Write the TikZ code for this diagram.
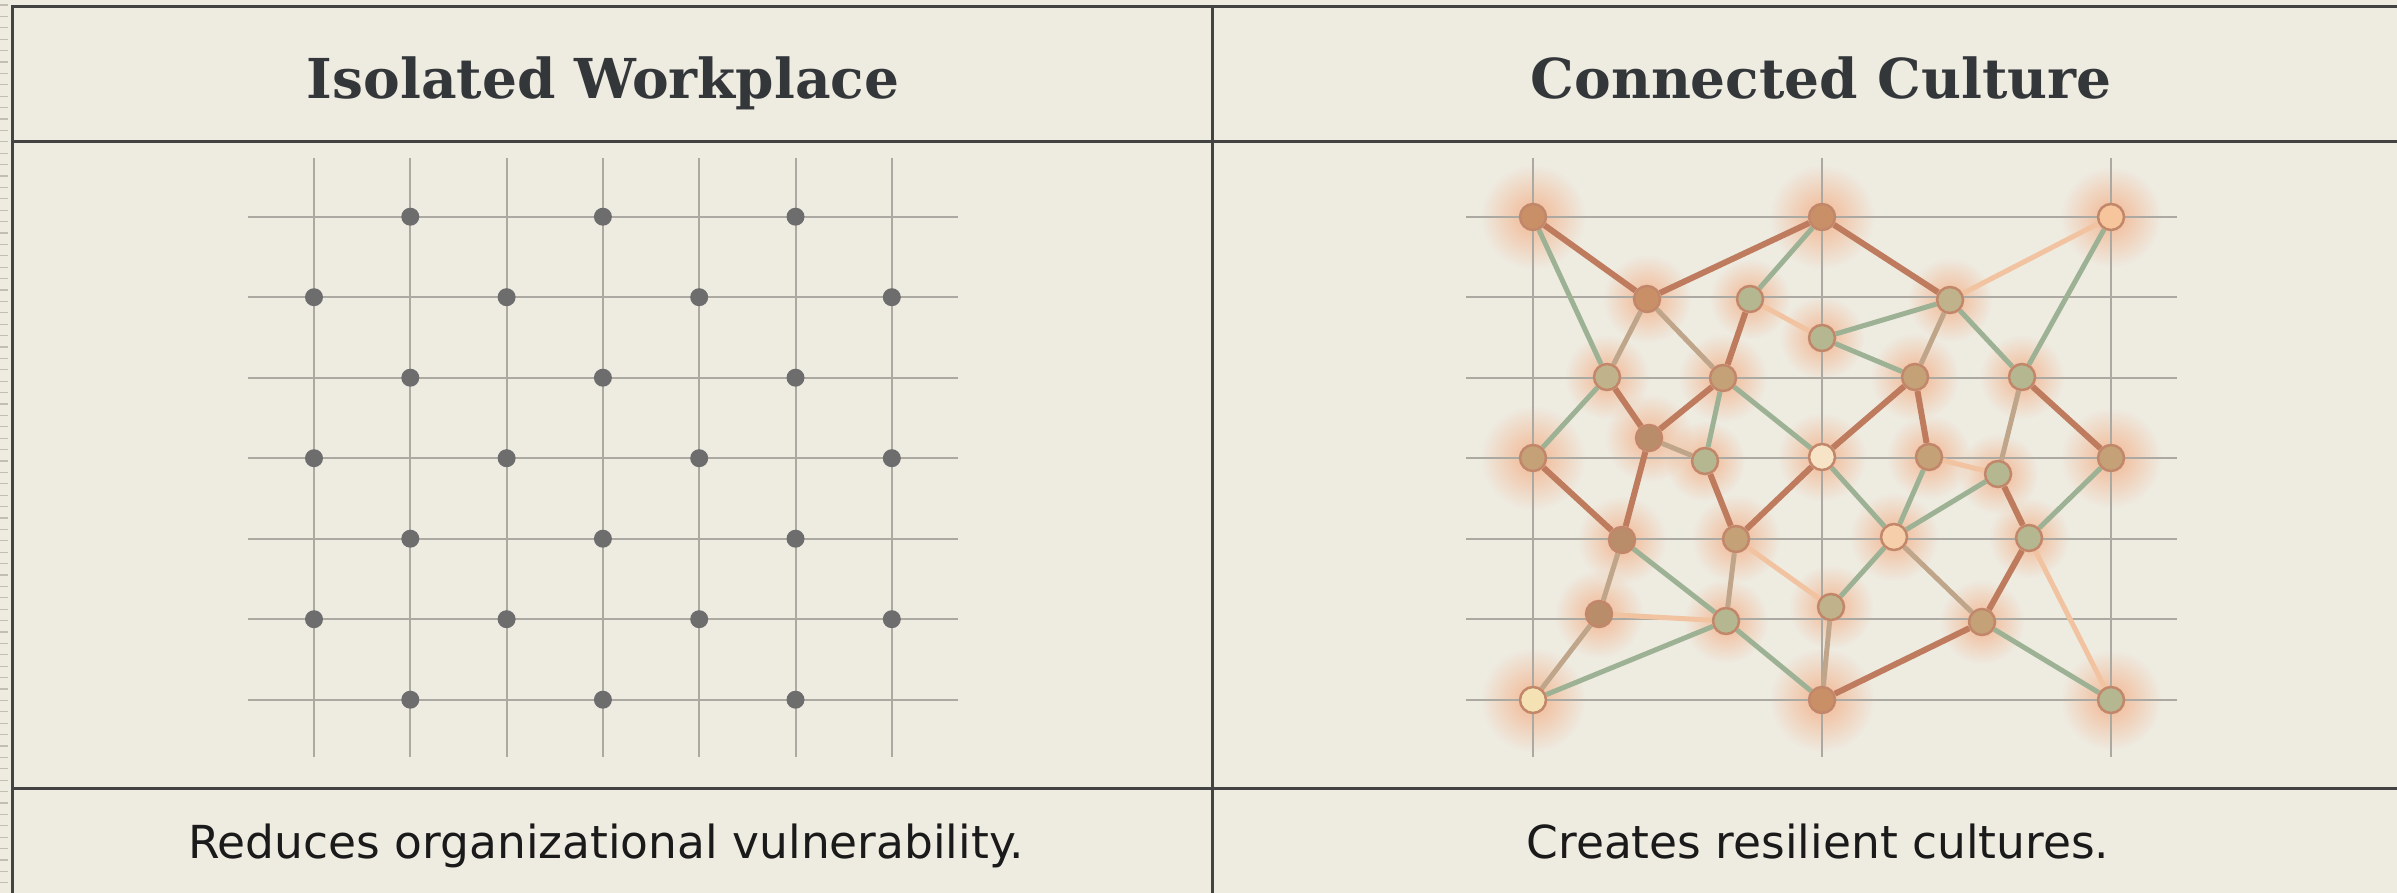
\documentclass[tikz,border=0pt]{standalone}
\usepackage{fontspec}
\usetikzlibrary{fadings}
\newfontfamily\titlefont{DejaVu Serif}
\newfontfamily\footfont{DejaVu Sans}
\definecolor{bgc}{HTML}{EEEBE1}
\definecolor{gridc}{HTML}{ABA9A1}
\definecolor{framec}{HTML}{434343}
\definecolor{dotc}{HTML}{6D6D6D}
\definecolor{tickc}{HTML}{C2BEB2}
\definecolor{titlec}{HTML}{34373A}
\definecolor{footc}{HTML}{1A1A1A}
\definecolor{brownE}{HTML}{BF7B5E}
\definecolor{greenE}{HTML}{9DB294}
\definecolor{peachE}{HTML}{F2C3A0}
\definecolor{tanE}{HTML}{BFA58A}
\definecolor{glowc}{HTML}{F7935C}
\definecolor{ndborder}{HTML}{C2876A}
\definecolor{fBrown}{HTML}{C99068}
\definecolor{fTan}{HTML}{C4A176}
\definecolor{fDark}{HTML}{B98D6A}
\definecolor{fGreen}{HTML}{B4B78F}
\definecolor{fGT}{HTML}{C0B38B}
\definecolor{fPeach}{HTML}{F6C59C}
\definecolor{fCream}{HTML}{F7E4C6}
\definecolor{fYellow}{HTML}{F5E2B4}
\tikzfading[name=glowfade, inner color=transparent!40, outer color=transparent!100]
\pgfdeclarelayer{back}
\pgfdeclarelayer{mid}
\pgfsetlayers{back,mid,main}
\tikzset{
  gridline/.style={draw=gridc, line width=2pt},
  frameline/.style={draw=framec, line width=3pt},
  tickline/.style={draw=tickc, line width=1.2pt},
  dotnode/.style={circle, fill=dotc, minimum size=18pt, inner sep=0pt},
  nd/.style={circle, draw=ndborder, line width=2.5pt, minimum size=26pt, inner sep=0pt},
  be/.style={draw=brownE, line width=6pt},
  ge/.style={draw=greenE, line width=5pt},
  pe/.style={draw=peachE, line width=5pt},
  te/.style={draw=tanE, line width=5pt},
  titlestyle/.style={font=\titlefont\bfseries\fontsize{55}{60}\selectfont, text=titlec, inner sep=0pt, anchor=base},
  footstyle/.style={font=\footfont\fontsize{45.5}{50}\selectfont, text=footc, inner sep=0pt, anchor=base},
}
\begin{document}
\begin{tikzpicture}[x=1pt,y=-1pt]
\useasboundingbox (0,0) rectangle (2397,893);
\begin{pgfonlayer}{back}
\fill[bgc] (0,0) rectangle (2397,893);
% ruled edge ticks
\foreach \t in {0,...,78} \draw[tickline] (0,{5+11.4*\t}) -- (8,{5+11.4*\t});
\end{pgfonlayer}

% node coordinates (right panel)
\coordinate (pA) at (1533,217);
\coordinate (pB) at (1822,217);
\coordinate (pN) at (2111,217);
\coordinate (pC) at (1647,299);
\coordinate (pD) at (1750,299);
\coordinate (pE) at (1822,338);
\coordinate (pO) at (1950,300);
\coordinate (pF) at (1607,377);
\coordinate (pG) at (1723,378);
\coordinate (pH) at (1915,377);
\coordinate (pQ) at (2022,377);
\coordinate (pI) at (1649,438);
\coordinate (pJ) at (1533,458);
\coordinate (pK) at (1705,461);
\coordinate (pL) at (1822,457);
\coordinate (pM) at (1929,457);
\coordinate (pS) at (1998,474);
\coordinate (pT) at (2111,458);
\coordinate (pU) at (1622,540);
\coordinate (pV) at (1736,539);
\coordinate (pW) at (1894,537);
\coordinate (pAC) at (2029,538);
\coordinate (pX) at (1599,614);
\coordinate (pY) at (1726,621);
\coordinate (pZ) at (1831,607);
\coordinate (pAD) at (1982,622);
\coordinate (pAA) at (1533,700);
\coordinate (pAB) at (1822,700);
\coordinate (pAE) at (2111,700);

\begin{pgfonlayer}{back}
% glows
\foreach \p/\r in {A/52,B/52,N/50,C/44,D/40,E/42,O/42,F/42,G/44,H/44,Q/42,I/44,J/52,K/40,L/44,M/42,S/40,T/50,U/44,V/44,W/44,AC/40,X/44,Y/42,Z/42,AD/42,AA/52,AB/52,AE/50}
  \fill[glowc, path fading=glowfade] (p\p) circle (\r);
% left grid
\foreach \k in {0,...,6} \draw[gridline] ({314+96.3*\k},158) -- ({314+96.3*\k},757);
\foreach \j in {0,...,6} \draw[gridline] (248,{216.7+80.5*\j}) -- (958,{216.7+80.5*\j});
% right grid
\foreach \xx in {1533,1822,2111} \draw[gridline] (\xx,158) -- (\xx,757);
\foreach \j in {0,...,6} \draw[gridline] (1466,{216.7+80.5*\j}) -- (2177,{216.7+80.5*\j});
% frame
\draw[frameline] (12,893) -- (12,7) -- (2397,7);
\draw[frameline] (12,142) -- (2397,142);
\draw[frameline] (12,788) -- (2397,788);
\draw[frameline] (1212,7) -- (1212,893);
\end{pgfonlayer}

% titles and captions
\node[titlestyle] (t1) at (603,99) {Isolated Workplace};
\node[titlestyle] (t2) at (1821,99) {Connected Culture};
\node[footstyle] (f1) at (606,858) {Reduces organizational vulnerability.};
\node[footstyle] (f2) at (1818,858) {Creates resilient cultures.};

% left dots
\foreach \j in {0,...,6} {
  \foreach \k in {0,...,6} {
    \pgfmathtruncatemacro\s{\j+\k}
    \ifodd\s
      \node[dotnode] (d-\j-\k) at ({314+96.3*\k},{216.7+80.5*\j}) {};
    \fi
  }
}

% network nodes
\foreach \p/\c in {A/fBrown,B/fBrown,N/fPeach,C/fBrown,D/fGreen,E/fGreen,O/fGT,F/fGT,G/fTan,H/fTan,Q/fGreen,I/fDark,J/fTan,K/fGreen,L/fCream,M/fTan,S/fGreen,T/fTan,U/fDark,V/fTan,W/fPeach!70!fCream,AC/fGreen,X/fDark,Y/fGreen,Z/fGT,AD/fTan,AA/fYellow,AB/fBrown,AE/fGreen}
  \node[nd, fill=\c] (n\p) at (p\p) {};

% connectors
\begin{pgfonlayer}{mid}
\foreach \a/\b in {A/C,C/B,B/O,F/I,G/I,D/G,H/L,H/M,I/U,J/U,K/V,V/L,Q/T,S/AC,AC/AD,AB/AD}
  \draw[be] (n\a) -- (n\b);
\foreach \a/\b in {A/F,B/D,E/O,E/H,F/J,G/K,G/L,L/W,M/W,W/S,W/Z,U/Y,AA/Y,Y/AB,N/Q,O/Q,T/AC,AD/AE}
  \draw[ge] (n\a) -- (n\b);
\foreach \a/\b in {D/E,O/N,M/S,V/Z,X/Y,AC/AE}
  \draw[pe] (n\a) -- (n\b);
\foreach \a/\b in {C/F,C/G,I/K,H/O,Q/S,V/Y,X/AA,Z/AB,W/AD,U/X}
  \draw[te] (n\a) -- (n\b);
\end{pgfonlayer}
\end{tikzpicture}
\end{document}
